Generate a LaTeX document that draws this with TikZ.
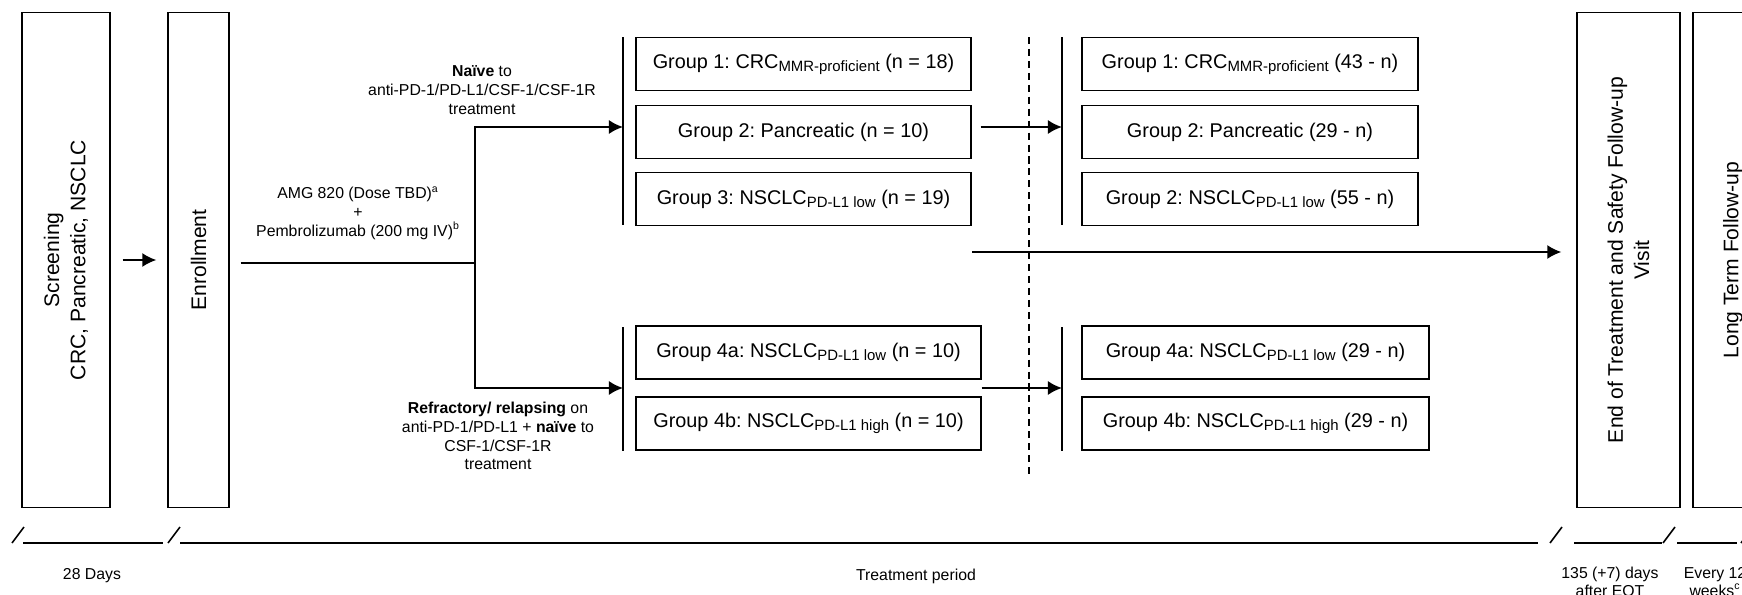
\documentclass[tikz,border=0pt]{standalone}
\usepackage{fontspec}
\setmainfont{Liberation Sans}
\usepackage{tikz}
\usetikzlibrary{shapes, arrows.meta, positioning}
\frenchspacing
\tikzstyle{block} = [draw, fill=white, rectangle, line width=0.75pt]
\tikzstyle{phase} = [block, rotate=90, minimum width=9.89cm, align=center, font=\fontsize{12}{15}\selectfont]
\tikzstyle{group} = [block, minimum height=1.06cm, font=\fontsize{11.3}{13}\selectfont]
\tikzstyle{note} = [align=center, font=\fontsize{9}{10.7}\selectfont]
\tikzstyle{bar} = [line width=1.1pt]
\tikzstyle{tl} = [line width=0.9pt]
\newcommand{\lowtxt}[1]{\raisebox{-0.3ex}{\fontsize{8.5}{8.5}\selectfont #1}}

\begin{document}
\begin{tikzpicture}[auto, >={Latex[length=8pt,width=8pt]}, x=0.02cm, y=-0.02cm]
    \useasboundingbox (0,0) rectangle (1742,595);
    \clip (0,0) rectangle (1742,595);
    % phases
    \node [phase, minimum height=1.76cm] (screen) at (66,260) {Screening\\CRC, Pancreatic, NSCLC};
    \node [phase, minimum height=1.22cm] (enrol) at (198.5,260) {Enrollment};
    \node [phase, minimum height=2.06cm] (eot) at (1628.5,260) {End of Treatment and Safety Follow-up\\Visit};
    \node [phase, minimum height=1.6cm] (ltf) at (1733,260) {Long Term Follow-up};
    % groups
    \node [group, minimum width=6.7cm] (g1) at (803.5,64) {Group 1: CRC\lowtxt{MMR-proficient} (n = 18)};
    \node [group, minimum width=6.7cm] (g2) at (803.5,132) {Group 2: Pancreatic (n = 10)};
    \node [group, minimum width=6.7cm] (g3) at (803.5,199) {Group 3: NSCLC\lowtxt{PD-L1 low} (n = 19)};
    \node [group, minimum width=6.9cm] (g4a) at (808.5,352.5) {Group 4a: NSCLC\lowtxt{PD-L1 low} (n = 10)};
    \node [group, minimum width=6.9cm] (g4b) at (808.5,423.5) {Group 4b: NSCLC\lowtxt{PD-L1 high} (n = 10)};
    \node [group, minimum width=6.72cm] (h1) at (1250,64) {Group 1: CRC\lowtxt{MMR-proficient} (43 - n)};
    \node [group, minimum width=6.72cm] (h2) at (1250,132) {Group 2: Pancreatic (29 - n)};
    \node [group, minimum width=6.72cm] (h3) at (1250,199) {Group 2: NSCLC\lowtxt{PD-L1 low} (55 - n)};
    \node [group, minimum width=6.94cm] (h4a) at (1255.5,352.5) {Group 4a: NSCLC\lowtxt{PD-L1 low} (29 - n)};
    \node [group, minimum width=6.94cm] (h4b) at (1255.5,423.5) {Group 4b: NSCLC\lowtxt{PD-L1 high} (29 - n)};
    % notes
    \node [note] (naive) at (482,90) {\textbf{Naïve} to\\anti-PD-1/PD-L1/CSF-1/CSF-1R\\treatment};
    \node [note] (amg) at (358,213) {AMG 820 (Dose TBD)\textsuperscript{a}\\+\\Pembrolizumab (200 mg IV)\textsuperscript{b}};
    \node [note] (refr) at (498,436) {\textbf{Refractory/ relapsing} on\\anti-PD-1/PD-L1 + \textbf{naïve} to\\CSF-1/CSF-1R\\treatment};
    % brackets
    \coordinate (split) at (475,263);
    \coordinate (inA) at (623,127);
    \coordinate (inB) at (623,388);
    \coordinate (outA) at (1062,127);
    \coordinate (outB) at (1062,388);
    \coordinate (lane) at (972,252);
    \draw [bar] (623,37) -- (623,225) (623,327) -- (623,451);
    \draw [bar] (1062,37) -- (1062,225) (1062,327) -- (1062,451);
    \draw [line width=0.8pt, dash pattern=on 4pt off 2.8pt] (1029,37) -- (1029,475);
    % arrows
    \draw [->, bar, shorten <=0.24cm, shorten >=0.22cm] (screen.south) -- (enrol.north);
    \draw [bar, shorten <=0.22cm] (enrol.south |- split) -- (split);
    \draw [->, bar] (split) |- (inA);
    \draw [->, bar] (split) |- (inB);
    \draw [->, bar, shorten <=0.18cm] (g2.east |- outA) -- (outA);
    \draw [->, bar] (g4a.south east |- outB) -- (outB);
    \draw [->, bar, shorten >=0.3cm] (lane) -- (lane -| eot.north);
    % timeline
    \foreach \x in {12,168,1550,1663,1741}
        \draw [tl] (\x,543) -- ++(12,-16);
    \draw [tl] (23,543) -- (163,543) (180,543) -- (1538,543) (1574,543) -- (1662,543) (1677,543) -- (1737,543);
    \node [note] (days) at (92,576) {28 Days};
    \node [note] (period) at (916,576) {Treatment period};
    \node [note, font=\fontsize{9}{10}\selectfont] (eotdays) at (1610,582) {135 (+7) days\\after EOT};
    \node [note, font=\fontsize{9}{10}\selectfont] (every) at (1715,582) {Every 12\\weeks\textsuperscript{c}};
\end{tikzpicture}
\end{document}
